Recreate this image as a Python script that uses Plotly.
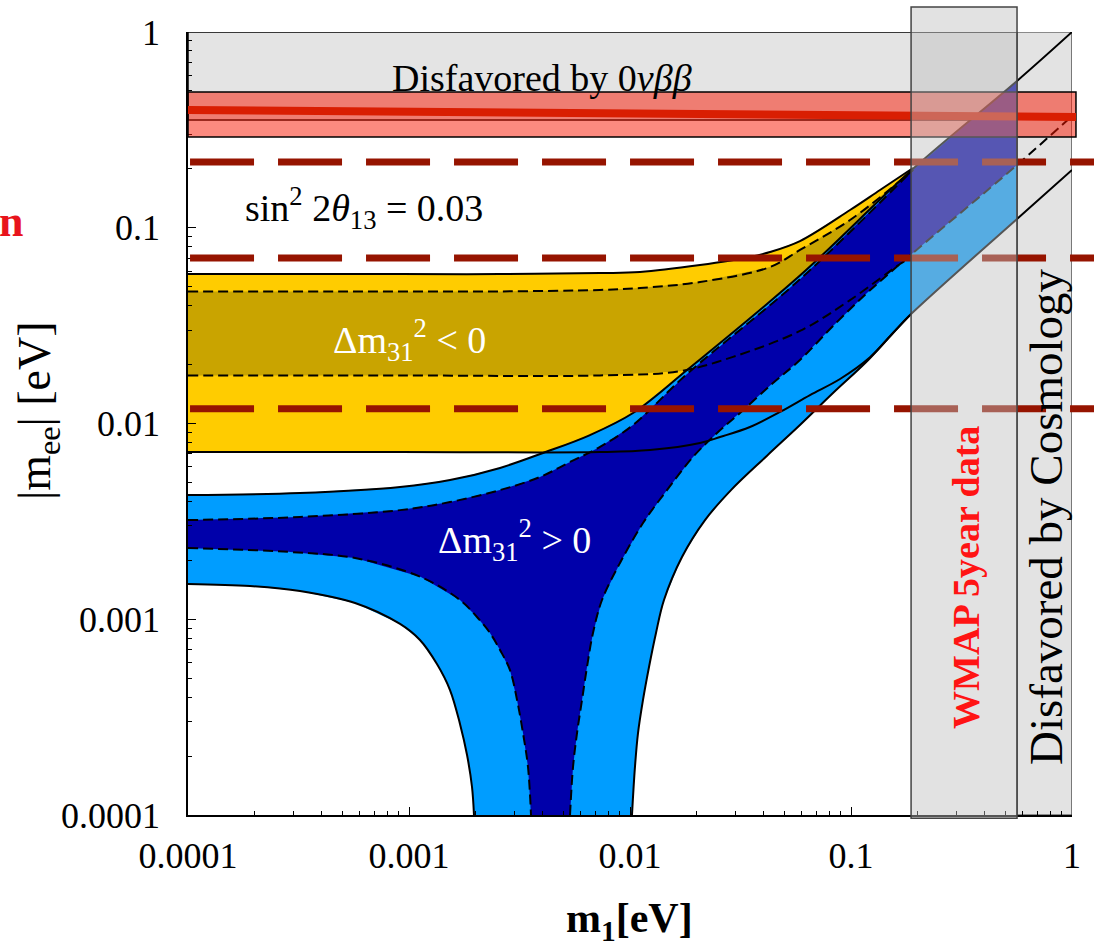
import plotly.graph_objects as go

FONT = "Liberation Serif, Times New Roman, serif"

# ---------------- axis ticks ----------------
tick_vals = [1e-4, 1e-3, 1e-2, 1e-1, 1.0]
tick_text = ["0.0001", "0.001", "0.01", "0.1", "1"]
minor_vals = [k * 10.0 ** e for e in (-4, -3, -2, -1) for k in range(2, 10)]

# ---------------- inverted hierarchy (Δm31^2 < 0) ----------------
ih_up_x = [1e-4, 3.21e-4, 9.11e-4, 2.581e-3, 7.315e-3, 1.11e-2, 2.073e-2, 3.49e-2, 4.30e-2, 5.875e-2, 9.90e-2, 0.1353, 0.1908]
ih_up_y = [0.0580, 0.0580, 0.0580, 0.0580, 0.0587, 0.0594, 0.0645, 0.0709, 0.0752, 0.0855, 0.1232, 0.1559, 0.2019]

ih_bu_x = [1e-4, 3.21e-4, 9.11e-4, 2.581e-3, 7.315e-3, 1.11e-2, 2.073e-2, 4.30e-2, 5.875e-2, 9.90e-2, 0.1666, 0.1908]
ih_bu_y = [0.0473, 0.0473, 0.0473, 0.0473, 0.0481, 0.0492, 0.0528, 0.0630, 0.0770, 0.1095, 0.1733, 0.1972]

ih_bl_x = [1e-4, 9.11e-4, 7.315e-3, 1.683e-2, 2.924e-2, 5.875e-2, 9.90e-2, 0.1666, 0.1849]
ih_bl_y = [0.0176, 0.0176, 0.0176, 0.0185, 0.0219, 0.0297, 0.0427, 0.0653, 0.0701]

ih_lo_x = [1e-4, 9.11e-4, 7.315e-3, 1.232e-2, 2.073e-2, 2.554e-2, 3.49e-2, 4.77e-2, 6.524e-2, 8.92e-2, 0.1219, 0.1549, 0.1849]
ih_lo_y = [0.00715, 0.00715, 0.00715, 0.00732, 0.00795, 0.00853, 0.0096, 0.01145, 0.01398, 0.01688, 0.0218, 0.0290, 0.0358]

# ---------------- normal hierarchy (Δm31^2 > 0) ----------------
nh_up_x = [1e-4, 3.21e-4, 9.11e-4, 1.533e-3, 2.581e-3, 4.04e-3, 6.592e-3, 1.032e-2, 1.811e-2, 5.875e-2, 0.1908, 0.5638, 1.0]
nh_up_y = [0.00431, 0.00441, 0.00474, 0.00514, 0.00593, 0.00707, 0.00873, 0.01131, 0.01876, 0.0570, 0.2000, 0.562, 1.0]

nh_bu_x = [1e-4, 3.21e-4, 9.11e-4, 1.533e-3, 2.581e-3, 3.915e-3, 5.353e-3, 7.315e-3, 1.032e-2, 1.811e-2, 5.875e-2, 0.1908]
nh_bu_y = [0.00321, 0.00333, 0.00361, 0.00397, 0.00457, 0.00533, 0.00636, 0.00759, 0.00982, 0.0179, 0.0545, 0.1980]

nh_bll_x = [1e-4, 2.835e-4, 5.70e-4, 1.133e-3, 1.701e-3, 2.031e-3, 2.325e-3, 2.581e-3, 2.864e-3, 3.083e-3, 3.28e-3, 3.455e-3, 3.565e-3]
nh_bll_y = [0.00231, 0.00221, 0.002055, 0.001643, 0.001254, 0.001027, 0.000851, 0.000697, 0.00055, 0.000387, 0.000262, 0.000176, 1e-4]

nh_blr_x = [5.353e-3, 5.523e-3, 5.758e-3, 6.065e-3, 6.389e-3, 6.80e-3, 7.468e-3, 9.01e-3, 1.145e-2, 1.47e-2, 1.928e-2, 2.476e-2, 3.146e-2, 4.436e-2, 5.875e-2, 8.29e-2, 0.1181, 0.1666, 0.5638, 1.0]
nh_blr_y = [1e-4, 0.000176, 0.000262, 0.000387, 0.00057, 0.000851, 0.001254, 0.00194, 0.0031, 0.00457, 0.00675, 0.00894, 0.01131, 0.0161, 0.0211, 0.0315, 0.0464, 0.0653, 0.2092, 0.3724]

nh_lll_x = [1e-4, 1.908e-4, 3.21e-4, 5.70e-4, 9.11e-4, 1.121e-3, 1.338e-3, 1.533e-3, 1.701e-3, 1.830e-3, 1.928e-3, 1.968e-3]
nh_lll_y = [0.001514, 0.001478, 0.001394, 0.001211, 0.000946, 0.000783, 0.00059, 0.000435, 0.000292, 0.000203, 0.000139, 1e-4]

nh_llr_x = [1.021e-2, 1.053e-2, 1.087e-2, 1.145e-2, 1.219e-2, 1.311e-2, 1.425e-2, 1.719e-2, 2.185e-2, 2.864e-2, 4.17e-2, 5.875e-2, 8.29e-2, 0.1181, 0.1549, 0.1849, 0.5638, 1.0]
nh_llr_y = [1e-4, 0.000176, 0.000262, 0.000387, 0.00057, 0.000851, 0.001254, 0.00208, 0.00321, 0.00457, 0.00685, 0.00982, 0.01431, 0.0208, 0.0290, 0.0358, 0.1109, 0.1972]

# ---------------- bands, boxes and reference levels ----------------
axis_min, axis_max = 1e-4, 1.0
band_0vbb_y = [0.355, 1.0]          # "Disfavored by 0νββ"
claim_box_y = [0.291, 0.494]        # red box
claim_line_y = [0.3995, 0.368]      # red central line (left, right)
dashed_levels = [0.217, 0.0700, 0.0119]
wmap_x = [0.187, 0.564]
cosmo_x = [0.564, 1.0]

fig = go.Figure()


def add_fill(xs, ys, color):
    fig.add_trace(go.Scatter(x=xs, y=ys, mode="lines", fill="toself", fillcolor=color,
                             line=dict(width=0, color=color), hoverinfo="skip", showlegend=False))


def add_line(xs, ys, dash="solid"):
    fig.add_trace(go.Scatter(x=xs, y=ys, mode="lines",
                             line=dict(color="black", width=2, dash=dash, shape="spline", smoothing=1.0),
                             hoverinfo="skip", showlegend=False))


# fills (yellow below blue)
add_fill(ih_up_x + ih_lo_x[::-1], ih_up_y + ih_lo_y[::-1], "#ffcc00")
add_fill(ih_bu_x + ih_bl_x[::-1], ih_bu_y + ih_bl_y[::-1], "#c9a400")
add_fill(nh_up_x + nh_llr_x[::-1] + nh_lll_x[::-1], nh_up_y + nh_llr_y[::-1] + nh_lll_y[::-1], "#009dff")
add_fill(nh_bu_x + nh_up_x[-2:] + nh_blr_x[::-1] + nh_bll_x[::-1],
         nh_bu_y + nh_up_y[-2:] + nh_blr_y[::-1] + nh_bll_y[::-1], "#0000aa")

# cosmology box (opaque, above fills, below curves)
fig.add_trace(go.Scatter(x=[cosmo_x[0], cosmo_x[1], cosmo_x[1], cosmo_x[0], cosmo_x[0]],
                         y=[axis_min, axis_min, axis_max, axis_max, axis_min],
                         mode="lines", fill="toself", fillcolor="#e3e3e3",
                         line=dict(color="#333333", width=1.2), hoverinfo="skip", showlegend=False))

# boundary curves
DASH = "10px,5px"
add_line(ih_up_x, ih_up_y)
add_line(ih_bu_x, ih_bu_y, DASH)
add_line(ih_bl_x, ih_bl_y, DASH)
add_line(ih_lo_x, ih_lo_y)
add_line(nh_up_x, nh_up_y)
add_line(nh_bu_x, nh_bu_y, DASH)
add_line(nh_bll_x, nh_bll_y, DASH)
add_line(nh_blr_x, nh_blr_y, DASH)
add_line(nh_lll_x, nh_lll_y)
add_line(nh_llr_x, nh_llr_y)

shapes = [
    dict(type="rect", xref="x", yref="y", x0=axis_min, x1=axis_max, y0=band_0vbb_y[0], y1=band_0vbb_y[1],
         fillcolor="#e4e4e4", line=dict(color="black", width=1.5), layer="below"),
    dict(type="rect", xref="paper", yref="y", x0=0, x1=1.0045, y0=claim_box_y[0], y1=claim_box_y[1],
         fillcolor="rgba(250,22,0,0.5)", line=dict(color="black", width=1.5), layer="above"),
    dict(type="line", xref="paper", yref="y", x0=0, x1=1.0045, y0=claim_line_y[0], y1=claim_line_y[1],
         line=dict(color="#d91e02", width=8), layer="above"),
]
for lv in dashed_levels:
    shapes.append(dict(type="line", xref="paper", yref="y", x0=0.0023, x1=1.025, y0=lv, y1=lv,
                       line=dict(color="#961400", width=7, dash="64px,24px"), layer="above"))
shapes.append(dict(type="rect", xref="x", yref="paper", x0=wmap_x[0], x1=wmap_x[1], y0=-0.004, y1=1.032,
                   fillcolor="rgba(190,190,190,0.45)", line=dict(color="#444444", width=1.5), layer="above"))

annotations = [
    dict(text="Disfavored by 0<i>νββ</i>", x=0.4005, y=0.9413, font=dict(size=38, color="black")),
    dict(text="sin<sup>2</sup> 2<i>θ</i><sub>13</sub> = 0.03", x=0.199, y=0.7752, font=dict(size=38, color="black")),
    dict(text="Δm<sub>31</sub><sup>2</sup> &lt; 0", x=0.25, y=0.6066, font=dict(size=38, color="white")),
    dict(text="Δm<sub>31</sub><sup>2</sup> &gt; 0", x=0.3688, y=0.3512, font=dict(size=38, color="white")),
    dict(text="<b>WMAP 5year data</b>", x=0.880, y=0.304, textangle=-90, font=dict(size=38, color="#ff1414")),
    dict(text="Disfavored by Cosmology", x=0.9706, y=0.3806, textangle=-90, font=dict(size=47, color="black")),
    dict(text="<b>n</b>", x=-0.1844, y=0.7586, xanchor="right", font=dict(size=44, color="#e8141c")),
    dict(text="<b>m<sub>1</sub>[eV]</b>", x=0.4989, y=-0.136, font=dict(size=42, color="black")),
    dict(text="|m<sub>ee</sub>| [eV]", x=-0.1697, y=0.5172, textangle=-90, font=dict(size=46, color="black")),
]
for a in annotations:
    a.setdefault("xanchor", "center")
    a.setdefault("yanchor", "middle")
    a.update(xref="paper", yref="paper", showarrow=False)
    a["font"]["family"] = FONT

axis_common = dict(
    type="log", range=[-4, 0], tickmode="array", tickvals=tick_vals, ticktext=tick_text,
    ticks="inside", ticklen=8, tickwidth=1.2, tickcolor="black",
    showline=True, linecolor="black", linewidth=1.5, mirror=False,
    showgrid=False, zeroline=False,
    tickfont=dict(family=FONT, size=36, color="black"),
    minor=dict(tickmode="array", tickvals=minor_vals, ticks="inside", ticklen=4,
               tickwidth=1, tickcolor="black", showgrid=False),
)

fig.update_layout(
    width=1094, height=950,
    margin=dict(l=188, r=22, t=32, b=135),
    paper_bgcolor="white", plot_bgcolor="white",
    showlegend=False,
    xaxis=dict(axis_common, ticklabelstandoff=8),
    yaxis=dict(axis_common, ticklabelstandoff=19),
    shapes=shapes,
    annotations=annotations,
    font=dict(family=FONT),
)

fig.write_html("out.html", config={"displayModeBar": False},
               post_script="document.body.style.margin='0px';document.body.style.overflow='hidden';")
